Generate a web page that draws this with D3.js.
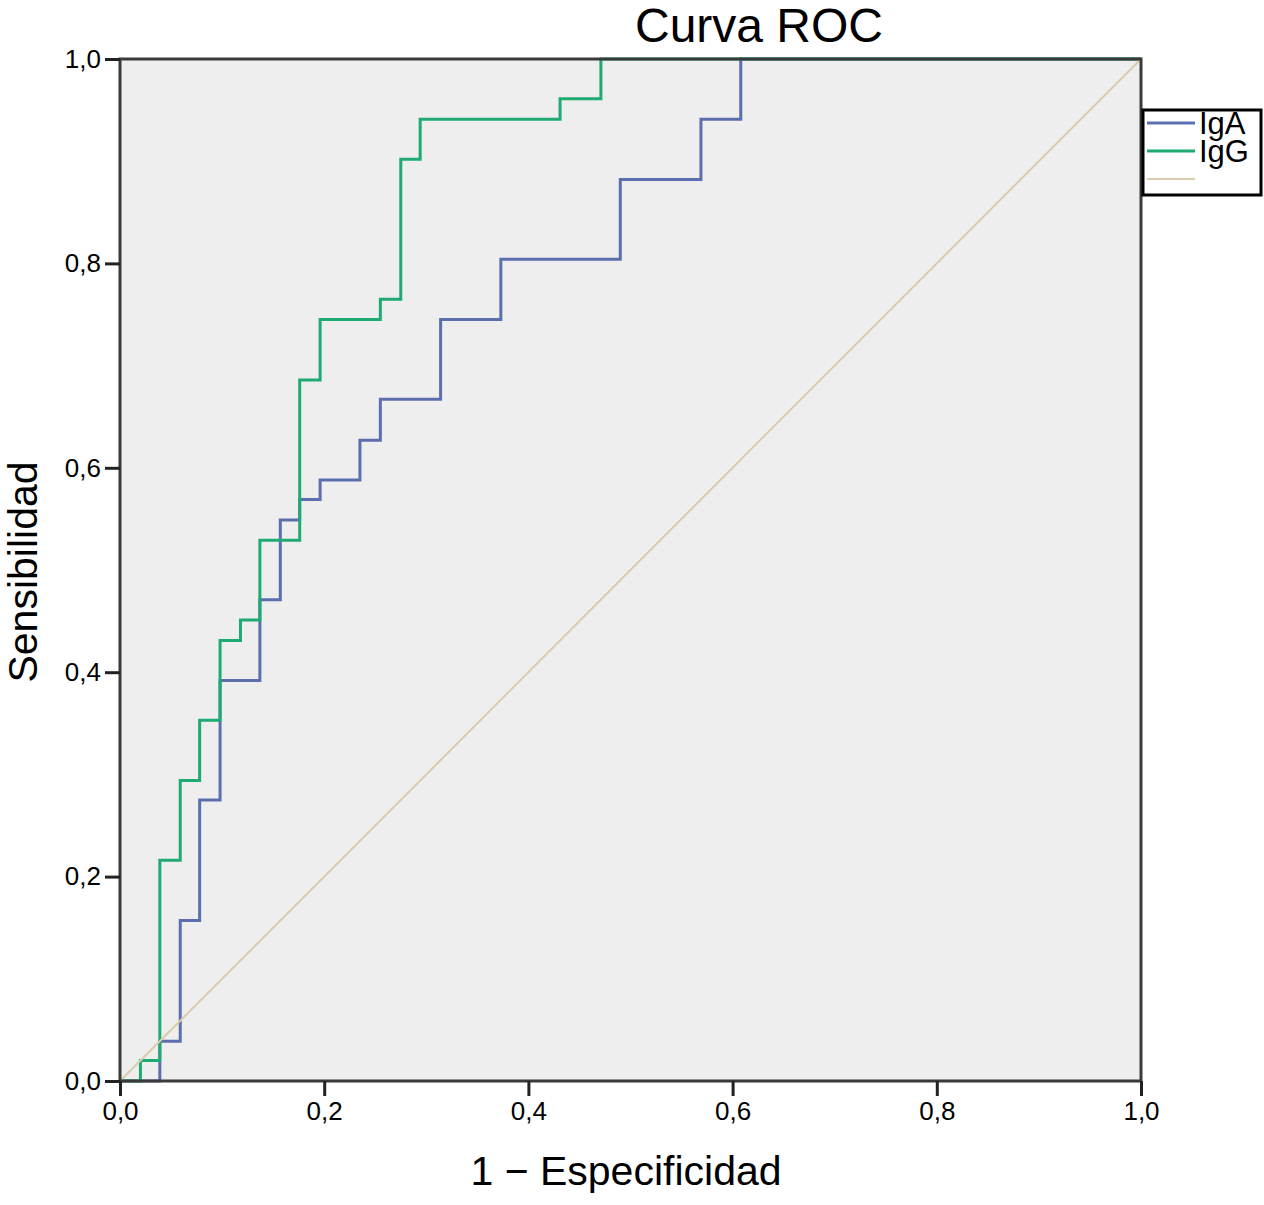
<!DOCTYPE html>
<html>
<head>
<meta charset="utf-8">
<script src="https://cdn.jsdelivr.net/npm/d3@7"></script>
<style>
  body { margin: 0; background: #fff; }
  text { font-family: "Liberation Sans", Arial, sans-serif; fill: #000; }
</style>
</head>
<body>
<svg id="chart" width="1264" height="1205"></svg>
<script>
// ROC step points: [1 - especificidad, sensibilidad]
const igaPoints = [
  [0, 0], [0.039, 0], [0.039, 0.039], [0.059, 0.039], [0.059, 0.157],
  [0.078, 0.157], [0.078, 0.275], [0.098, 0.275], [0.098, 0.392],
  [0.137, 0.392], [0.137, 0.471], [0.157, 0.471], [0.157, 0.549],
  [0.176, 0.549], [0.176, 0.569], [0.196, 0.569], [0.196, 0.588],
  [0.235, 0.588], [0.235, 0.627], [0.255, 0.627], [0.255, 0.667],
  [0.314, 0.667], [0.314, 0.745], [0.373, 0.745], [0.373, 0.804],
  [0.490, 0.804], [0.490, 0.882], [0.569, 0.882], [0.569, 0.941],
  [0.608, 0.941], [0.608, 1], [1, 1]
];
const iggPoints = [
  [0, 0], [0.020, 0], [0.020, 0.020], [0.039, 0.020], [0.039, 0.216],
  [0.059, 0.216], [0.059, 0.294], [0.078, 0.294], [0.078, 0.353],
  [0.098, 0.353], [0.098, 0.431], [0.118, 0.431], [0.118, 0.451],
  [0.137, 0.451], [0.137, 0.529], [0.176, 0.529], [0.176, 0.686],
  [0.196, 0.686], [0.196, 0.745], [0.255, 0.745], [0.255, 0.765],
  [0.275, 0.765], [0.275, 0.902], [0.294, 0.902], [0.294, 0.941],
  [0.431, 0.941], [0.431, 0.961], [0.471, 0.961], [0.471, 1], [1, 1]
];
const refPoints = [[0, 0], [1, 1]];
const tickValues = [0, 0.2, 0.4, 0.6, 0.8, 1];
const seriesNames = ['IgA', 'IgG', ''];
const seriesColors = ['#5b6fae', '#1faa72', '#d8ccaa'];

const svg = d3.select('#chart');
const margin = { left: 120, right: 123, top: 59, bottom: 124 };
const width = 1264 - margin.left - margin.right,
  height = 1205 - margin.top - margin.bottom;

const x = d3.scaleLinear().domain([0, 1]).range([margin.left, margin.left + width]);
const y = d3.scaleLinear().domain([0, 1]).range([margin.top + height, margin.top]);
const fmt = d => d3.format('.1f')(d).replace('.', ',');

// plot background
svg.append('rect')
  .attr('x', x(0)).attr('y', y(1))
  .attr('width', x(1) - x(0)).attr('height', y(0) - y(1))
  .style('fill', '#eeeeee');

// curves
const line = d3.line().x(d => x(d[0])).y(d => y(d[1]));
[igaPoints, iggPoints, refPoints].forEach((pts, i) => {
  svg.append('path')
    .attr('d', line(pts))
    .style('fill', 'none')
    .style('stroke', seriesColors[i])
    .style('stroke-width', i === 2 ? 2 : 3);
});

// frame
svg.append('rect')
  .attr('x', x(0)).attr('y', y(1))
  .attr('width', x(1) - x(0)).attr('height', y(0) - y(1))
  .style('fill', 'none')
  .style('stroke', '#3a3a3a')
  .style('stroke-width', 3);

// axes
const xAxis = svg.append('g')
  .attr('transform', `translate(0,${y(0)})`)
  .call(d3.axisBottom(x).tickValues(tickValues).tickFormat(fmt).tickSize(15).tickPadding(6));
const yAxis = svg.append('g')
  .attr('transform', `translate(${x(0)},0)`)
  .call(d3.axisLeft(y).tickValues(tickValues).tickFormat(fmt).tickSize(15).tickPadding(4));
[xAxis, yAxis].forEach(a => {
  a.select('.domain').remove();
  a.selectAll('line').style('stroke', '#222').style('stroke-width', 3);
  a.selectAll('text').style('font-size', '26px')
    .style('font-family', '"Liberation Sans", Arial, sans-serif');
});

// titles
svg.append('text')
  .attr('x', 759).attr('y', 42)
  .attr('text-anchor', 'middle')
  .style('font-size', '48px')
  .text('Curva ROC');
svg.append('text')
  .attr('x', 626).attr('y', 1185)
  .attr('text-anchor', 'middle')
  .style('font-size', '41px')
  .text('1 \u2212 Especificidad');
svg.append('text')
  .attr('transform', `translate(37,${572}) rotate(-90)`)
  .attr('text-anchor', 'middle')
  .style('font-size', '41px')
  .text('Sensibilidad');

// legend
const legend = svg.append('g').attr('transform', 'translate(1143,110)');
legend.append('rect')
  .attr('width', 118).attr('height', 85)
  .style('fill', '#fff')
  .style('stroke', '#000')
  .style('stroke-width', 3);
seriesNames.forEach((name, i) => {
  const ly = 13 + i * 28;
  legend.append('line')
    .attr('x1', 4).attr('x2', 52).attr('y1', ly).attr('y2', ly)
    .style('stroke', seriesColors[i])
    .style('stroke-width', i === 2 ? 2 : 3);
  legend.append('text')
    .attr('x', 56).attr('y', ly + 11)
    .style('font-size', '31px')
    .text(name);
});
</script>
</body>
</html>
